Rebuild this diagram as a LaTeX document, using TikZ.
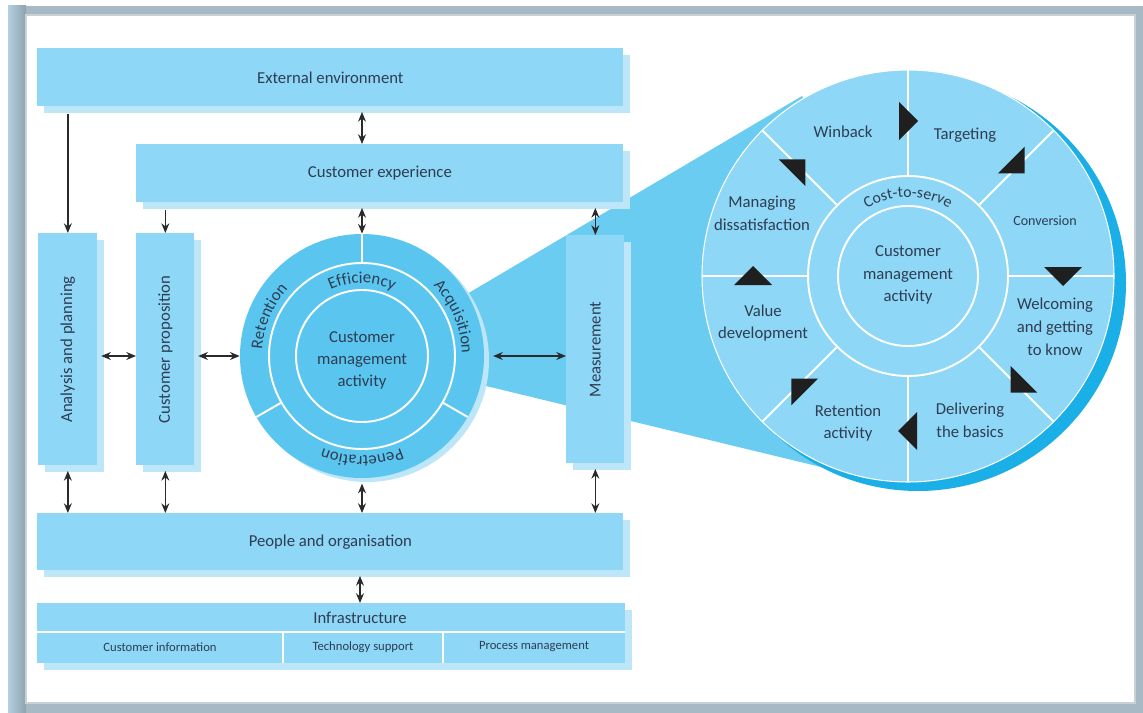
\documentclass[tikz,border=0pt]{standalone}
\usepackage{fontspec}
\setmainfont{Carlito}
\usetikzlibrary{arrows.meta,decorations.text,shadows,calc}
\definecolor{boxc}{HTML}{8ED7F6}
\definecolor{shc}{HTML}{BEE6F9}
\definecolor{midc}{HTML}{5AC6EF}
\definecolor{func}{HTML}{6BCCF1}
\definecolor{darkc}{HTML}{1AAFE6}
\definecolor{txt}{HTML}{2E3D52}
\definecolor{framec}{HTML}{A6B9C4}
\definecolor{frameL}{HTML}{B4CFE0}
\definecolor{frameD}{HTML}{8FA3AE}
\definecolor{arrc}{HTML}{2A2A2A}
\newcommand\bx[6]{\node[boxst, minimum width={(#4-#2)*0.02cm}, minimum height={(#5-#3)*0.02cm}, anchor=north west] (#1) at (#2,-#3) {#6};}
\begin{document}
\begin{tikzpicture}[x=0.02cm,y=0.02cm,
  lbl/.style={text=txt, font=\fontsize{9.5}{13}\selectfont, align=center, inner sep=0pt},
  small/.style={text=txt, font=\fontsize{7.2}{9}\selectfont, inner sep=0pt},
  boxst/.style={fill=boxc, draw=none, inner sep=0pt, text=txt, font=\fontsize{9.5}{12}\selectfont,
     drop shadow={shadow xshift=4pt, shadow yshift=-4pt, fill=shc, opacity=1}},
  tip/.tip={Stealth[length=5.5pt,width=4.5pt]},
  arr/.style={draw=arrc, line width=0.8pt, -tip},
  darr/.style={draw=arrc, line width=0.8pt, tip-tip},
  wl/.style={draw=white, line width=1.1pt},
  tri/.style={fill=black!88},
  ringtxt/.style={decorate, decoration={text along path, text align=center, text color=txt}},
]
\useasboundingbox (0,0) rectangle (1143,-713);
% frame
\fill[white] (0,0) rectangle (1143,-713);
\fill[framec] (8,-6) rectangle (1143,-713);
\shade[left color=frameL, right color=frameD] (8,-6) rectangle (26,-713);
\fill[white] (26,-15) rectangle (1135,-703);
\draw[frameD!50, line width=0.6pt] (26,-15) rectangle (1135,-703);

% funnel
\coordinate (P1) at (802,-96);
\coordinate (P2) at (850,-474);
\coordinate (A) at (362,-356);
\fill[func] (A) -- (P1) -- (908,-276) -- (P2) -- cycle;

% big circle
\fill[darkc] (918,-283) circle (208);
\node[circle, fill=boxc, minimum size={412*0.02cm}, inner sep=0pt, draw=white, line width=0.6pt] (bc) at (908,-276) {};
\draw[wl] (bc.center) circle (100);
\draw[wl] (bc.center) circle (70);
\foreach \a in {0,45,...,315} \draw[wl] ($(bc.center)+(\a:100)$) -- ($(bc.center)+(\a:206)$);
\foreach \r in {0,-45,-90,-135,-180,-225,-270,-315}
  \fill[tri, rotate around={\r:(bc.center)}] (899,-102) -- (918,-121) -- (899,-140) -- cycle;
\path[ringtxt, decoration={text={|\fontsize{9}{10}\selectfont|Cost-to-serve}}]
  ($(bc.center)+(140:79)$) arc[start angle=140, end angle=40, radius=79];
\node[lbl] (wb) at (843,-132) {Winback};
\node[lbl] (tg) at (965,-135) {Targeting};
\node[lbl, font=\fontsize{8}{10}\selectfont] (cv) at (1045,-221) {Conversion};
\node[lbl] (wc) at (1055,-327) {Welcoming\\and getting\\to know};
\node[lbl] (db) at (970,-420) {Delivering\\the basics};
\node[lbl] (ra) at (848,-423) {Retention\\activity};
\node[lbl] (vd) at (763,-323) {Value\\development};
\node[lbl] (md) at (762,-213) {Managing\\dissatisfaction};
\node[lbl] (bcm) at (908,-275) {Customer\\management\\activity};

% small circle
\fill[shc] (367,-360) circle (122);
\node[circle, fill=midc, minimum size={244*0.02cm}, inner sep=0pt] (sc) at (362,-356) {};
\draw[wl] (sc.center) circle (93);
\draw[wl] (sc.center) circle (66);
\foreach \a in {90,210,330} \draw[wl] ($(sc.center)+(\a:93)$) -- ($(sc.center)+(\a:122)$);
\path[ringtxt, decoration={text={|\fontsize{9.5}{10}\selectfont|Efficiency}}]
  ($(sc.center)+(140:73)$) arc[start angle=140, end angle=40, radius=73];
\path[ringtxt, decoration={text={|\fontsize{9.5}{10}\selectfont|Retention}}]
  ($(sc.center)+(207:100)$) arc[start angle=207, end angle=107, radius=100];
\path[ringtxt, decoration={text={|\fontsize{9.5}{10}\selectfont|Acquisition}}]
  ($(sc.center)+(73:100)$) arc[start angle=73, end angle=-27, radius=100];
\path[ringtxt, decoration={text={|\fontsize{9.5}{10}\selectfont|Penetration}}]
  ($(sc.center)+(-40:100)$) arc[start angle=-40, end angle=-140, radius=100];
\node[lbl, font=\fontsize{9.5}{12.5}\selectfont] (scm) at (362,-360) {Customer\\management\\activity};

% boxes
\bx{ext}{37}{48}{623}{106}{External environment}
\bx{exp}{136}{144}{623}{202}{Customer experience}
\bx{ana}{38}{233}{97}{465}{\rotatebox{90}{Analysis and planning}}
\bx{prop}{136}{233}{194}{465}{\rotatebox{90}{Customer proposition}}
\bx{meas}{566}{235}{624}{463}{\rotatebox{90}{Measurement}}
\bx{ppl}{37}{513}{623}{570}{People and organisation}
\bx{infra}{37}{603}{625}{663}{}
\draw[wl] (37,-632) -- (625,-632);
\draw[wl] (283,-632) -- (283,-663);
\draw[wl] (443,-632) -- (443,-663);
\node[lbl] (infh) at (360,-618) {Infrastructure};
\node[small] (ci) at (160,-647) {Customer information};
\node[small] (ts) at (363,-647) {Technology support};
\node[small] (pm) at (534,-647) {Process management};

% arrows
\draw[arr, shorten <=4pt] (ana.north |- ext.south) -- (ana.north);
\draw[arr, shorten <=4pt] (prop.north |- exp.south) -- (prop.north);
\draw[darr, shorten <=3pt] (sc.center |- ext.south) -- (sc.center |- exp.north);
\draw[darr, shorten <=3pt] (sc.center |- exp.south) -- (sc.north);
\draw[darr, shorten <=3pt] (meas.north |- exp.south) -- (meas.north);
\draw[darr, shorten <=2pt] (ana.east |- sc.center) -- (prop.west |- sc.center);
\draw[darr, shorten <=2pt] (prop.east |- sc.center) -- (sc.west);
\draw[darr, shorten <=5pt] (sc.east) -- (meas.west |- sc.center);
\draw[darr, shorten <=3pt] (ana.south) -- (ana.south |- ppl.north);
\draw[darr, shorten <=3pt] (prop.south) -- (prop.south |- ppl.north);
\draw[darr, shorten <=3pt] (sc.south) -- (sc.south |- ppl.north);
\draw[darr, shorten <=3pt] (meas.south) -- (meas.south |- ppl.north);
\draw[darr, shorten <=3pt] (infh.north |- ppl.south) -- (infh.north |- infra.north);
\end{tikzpicture}
\end{document}
